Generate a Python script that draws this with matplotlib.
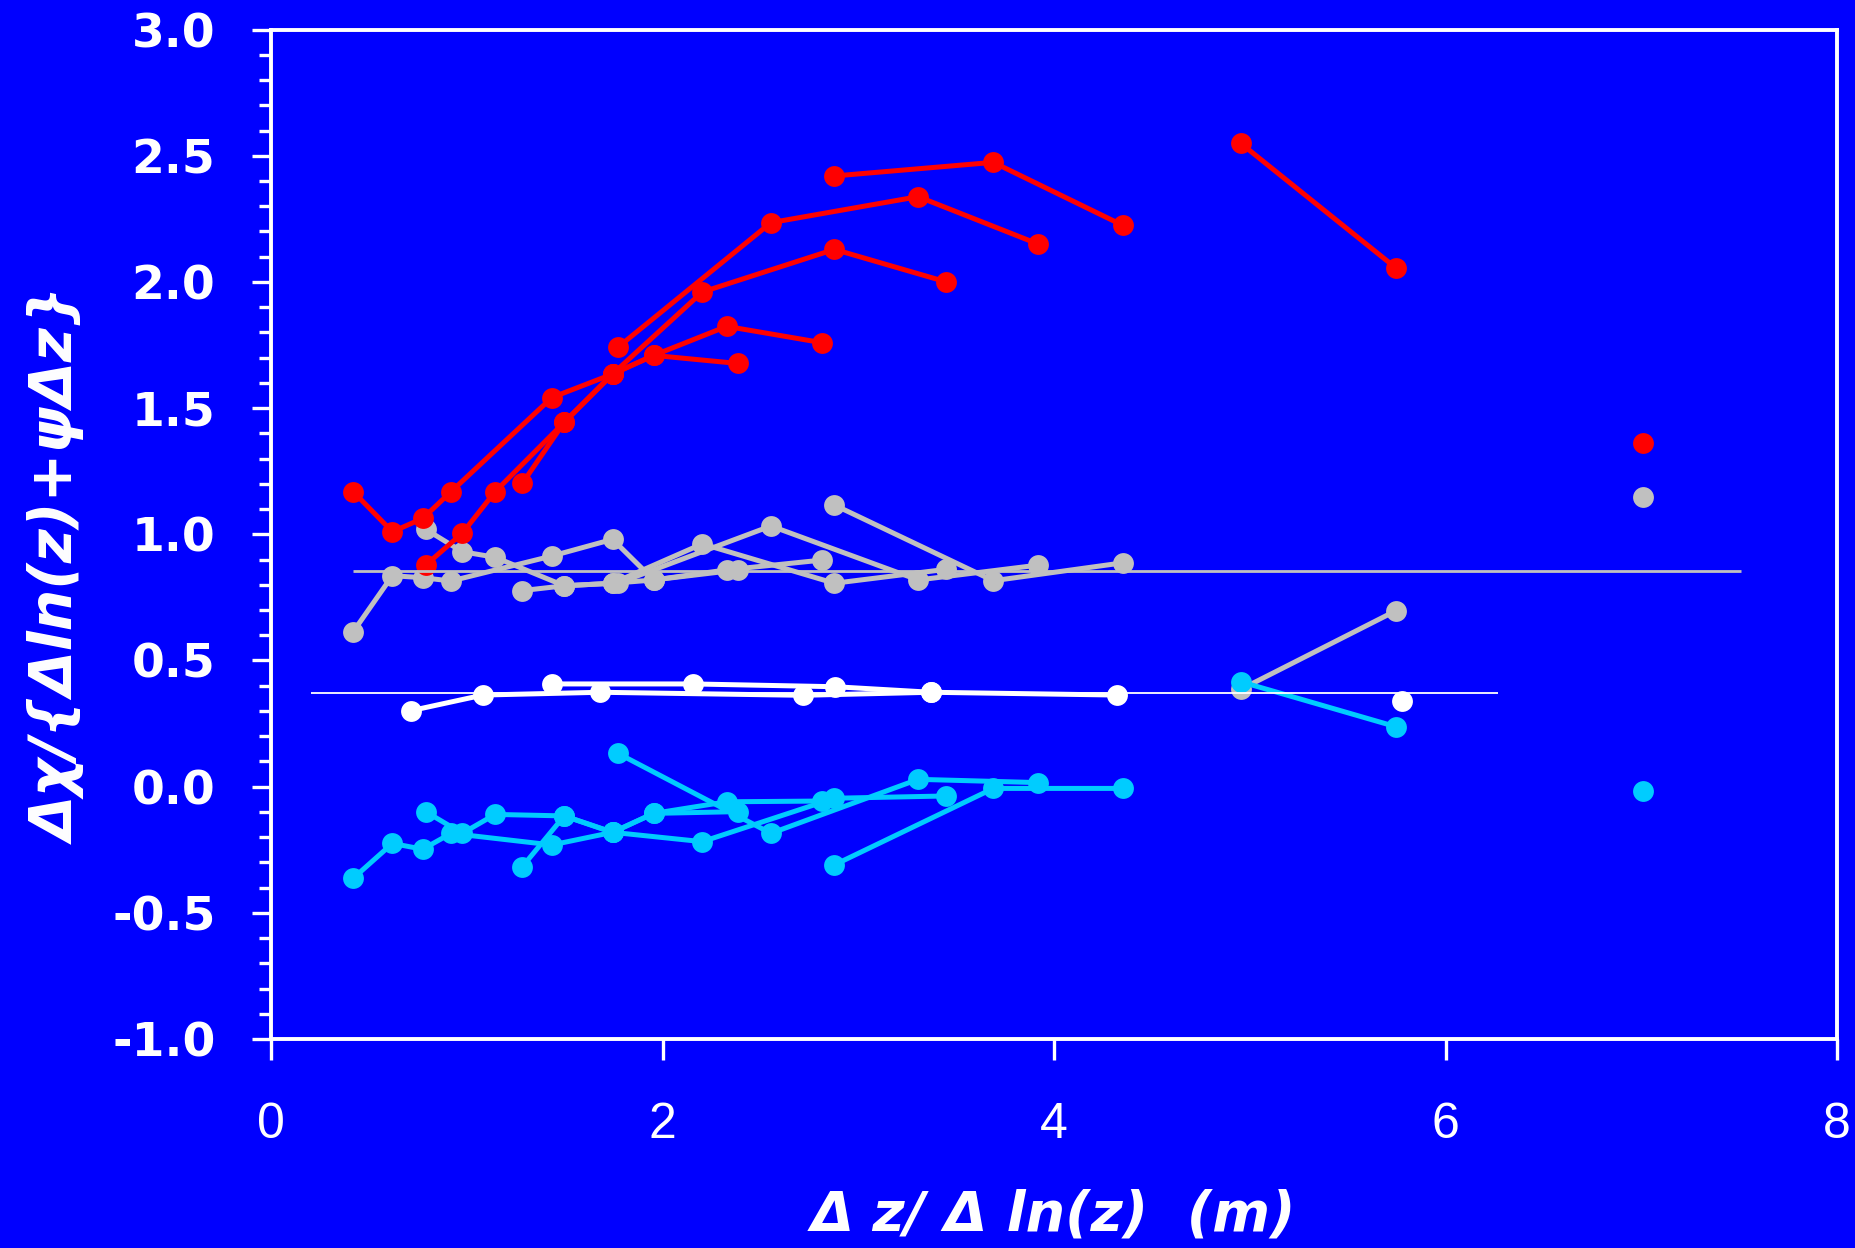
import matplotlib
matplotlib.use('Agg')
import matplotlib.pyplot as plt
from matplotlib.ticker import MultipleLocator, FormatStrFormatter

# x positions of each run (same heights for red, grey and cyan)
x_run1 = [0.42, 0.62, 0.775, 0.92, 1.435, 1.745, 1.955, 2.385]
x_run2 = [0.79, 0.977, 1.145, 1.498, 1.745, 2.203, 2.878, 3.446]
x_run3 = [1.284, 1.498, 1.745, 1.955, 2.328, 2.817]
x_run4 = [1.772, 2.554, 3.306, 3.92]
x_run5 = [2.878, 3.69, 4.352]
x_run6 = [4.953, 5.749]
x_run7 = [7.01]

red_run1 = [1.169, 1.010, 1.063, 1.169, 1.542, 1.635, 1.709, 1.677]
red_run2 = [0.878, 1.004, 1.169, 1.444, 1.635, 1.960, 2.129, 2.001]
red_run3 = [1.202, 1.444, 1.635, 1.709, 1.824, 1.759]
red_run4 = [1.741, 2.235, 2.338, 2.150]
red_run5 = [2.420, 2.474, 2.224]
red_run6 = [2.550, 2.054]
red_run7 = [1.360]

grey_run1 = [0.614, 0.836, 0.828, 0.815, 0.914, 0.980, 0.819, 0.859]
grey_run2 = [1.020, 0.931, 0.909, 0.796, 0.806, 0.962, 0.806, 0.861]
grey_run3 = [0.777, 0.796, 0.806, 0.819, 0.859, 0.898]
grey_run4 = [0.806, 1.033, 0.819, 0.878]
grey_run5 = [1.116, 0.816, 0.887]
grey_run6 = [0.385, 0.698]
grey_run7 = [1.147]

cyan_run1 = [-0.363, -0.225, -0.248, -0.185, -0.231, -0.181, -0.106, -0.099]
cyan_run2 = [-0.099, -0.185, -0.110, -0.116, -0.181, -0.218, -0.046, -0.037]
cyan_run3 = [-0.317, -0.116, -0.181, -0.106, -0.060, -0.057]
cyan_run4 = [0.132, -0.185, 0.029, 0.016]
cyan_run5 = [-0.310, -0.007, -0.007]
cyan_run6 = [0.416, 0.237]
cyan_run7 = [-0.017]

# white series has its own x positions
x_white_a = [0.715, 1.083, 1.683, 2.718, 3.372, 4.32]
white_a = [0.301, 0.363, 0.374, 0.362, 0.374, 0.363]
x_white_b = [1.438, 2.158, 2.881, 3.372]
white_b = [0.407, 0.407, 0.396, 0.374]
x_white_c = [5.78]
white_c = [0.341]

# mean lines
grey_mean, grey_span = 0.856, (0.417, 7.51)
white_mean, white_span = 0.370, (0.205, 6.27)

runs_x = [x_run1, x_run2, x_run3, x_run4, x_run5, x_run6, x_run7]
red = [red_run1, red_run2, red_run3, red_run4, red_run5, red_run6, red_run7]
grey = [grey_run1, grey_run2, grey_run3, grey_run4, grey_run5, grey_run6, grey_run7]
cyan = [cyan_run1, cyan_run2, cyan_run3, cyan_run4, cyan_run5, cyan_run6, cyan_run7]

BG = '#0000FF'
RED = '#FF0000'
GREY = '#C0C0C0'
CYAN = '#00CCFF'
WHITE = '#FFFFFF'

fig = plt.figure(figsize=(18.55, 12.48), dpi=100, facecolor=BG)
ax = fig.add_axes([271 / 1855, 1 - 1039 / 1248, (1837 - 271) / 1855, (1039 - 29.6) / 1248])
ax.set_facecolor(BG)

style = dict(marker='o', markersize=15, linewidth=3.6, markeredgewidth=0)

for xs, ys in zip(runs_x, grey):
    ax.plot(xs, ys, color=GREY, zorder=2, **style)
for xs, ys in [(x_white_a, white_a), (x_white_b, white_b), (x_white_c, white_c)]:
    ax.plot(xs, ys, color=WHITE, zorder=3, **style)
for xs, ys in zip(runs_x, red):
    ax.plot(xs, ys, color=RED, zorder=4, **style)
for xs, ys in zip(runs_x, cyan):
    ax.plot(xs, ys, color=CYAN, zorder=5, **style)

ax.hlines(grey_mean, *grey_span, color=GREY, linewidth=2.0, zorder=6)
ax.hlines(white_mean, *white_span, color=WHITE, linewidth=1.3, zorder=6)

ax.set_xlim(0, 8)
ax.set_ylim(-1.0, 3.0)
ax.xaxis.set_major_locator(MultipleLocator(2))
ax.yaxis.set_major_locator(MultipleLocator(0.5))
ax.yaxis.set_minor_locator(MultipleLocator(0.1))
ax.yaxis.set_major_formatter(FormatStrFormatter('%.1f'))

for sp in ax.spines.values():
    sp.set_color(WHITE)
    sp.set_linewidth(2.8)

ax.tick_params(axis='both', which='both', direction='out', colors=WHITE, width=2.4)
ax.tick_params(axis='y', which='major', length=14, pad=26,
               labelsize=34, labelfontfamily='DejaVu Sans')
ax.tick_params(axis='y', which='minor', length=9)
ax.tick_params(axis='x', which='major', length=15, pad=30,
               labelsize=36, labelfontfamily='Liberation Sans')
plt.setp(ax.get_yticklabels(), fontweight='bold')

fig.text(0.032, 0.5465, 'Δχ/{Δln(z)+ψΔz}', rotation=90, ha='center', va='center',
         color=WHITE, fontsize=42, fontweight='bold', fontstyle='italic',
         family='DejaVu Sans')
fig.text(0.568, 0.026, 'Δ z/ Δ ln(z)  (m)', ha='center', va='center',
         color=WHITE, fontsize=40, fontweight='bold', fontstyle='italic',
         family='DejaVu Sans')

fig.savefig('out.png', dpi=100, facecolor=BG)
